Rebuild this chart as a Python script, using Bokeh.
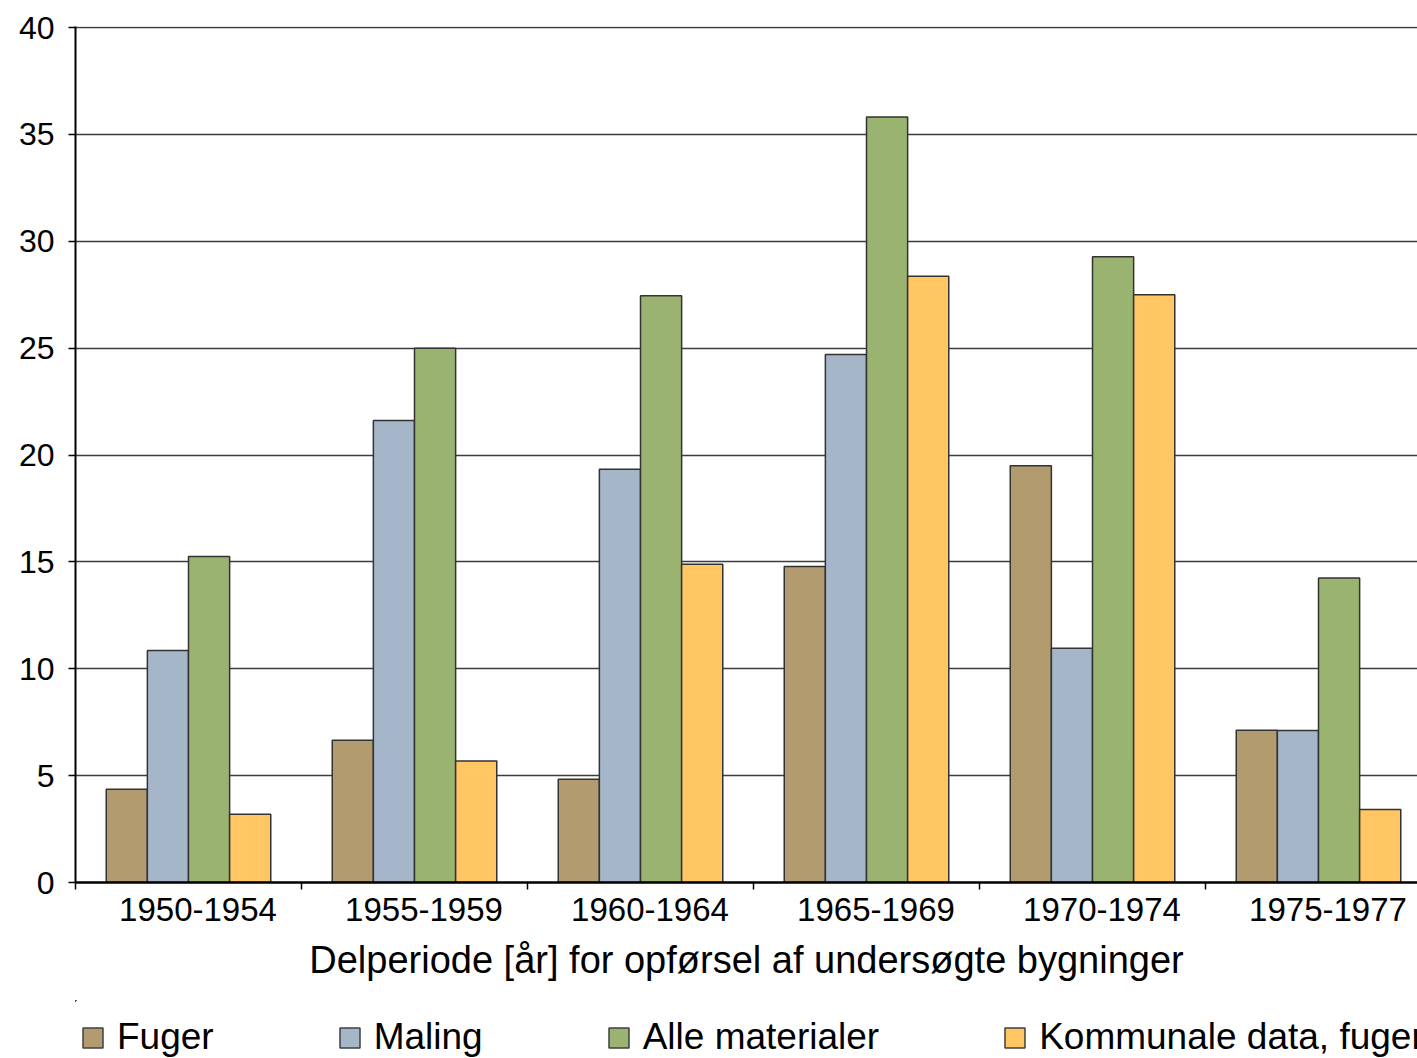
import numpy as np
from bokeh.plotting import figure
from bokeh.layouts import column
from bokeh.models import (Range1d, FixedTicker, Legend, LegendItem, ColumnDataSource)
from bokeh.embed import file_html
from bokeh.resources import INLINE

# ---- data ----
periods = ["1950-1954", "1955-1959", "1960-1964", "1965-1969", "1970-1974", "1975-1977"]
series_names = ["Fuger", "Maling", "Alle materialer", "Kommunale data, fuger"]
fuger = [4.36, 6.66, 4.83, 14.78, 19.50, 7.12]
maling = [10.86, 21.61, 19.33, 24.70, 10.96, 7.11]
alle = [15.25, 25.0, 27.45, 35.81, 29.28, 14.25]
kommunale = [3.19, 5.69, 14.89, 28.36, 27.50, 3.41]
y_ticks = [0, 5, 10, 15, 20, 25, 30, 35, 40]

colors = ["#B29B6E", "#A6B6C9", "#9BB371", "#FFC663"]
values = [fuger, maling, alle, kommunale]

FONT = "Liberation Sans"
bar_w = 0.182
offsets = [-1.5 * bar_w, -0.5 * bar_w, 0.5 * bar_w, 1.5 * bar_w]
label_shift = 0.042

n = len(periods)
centers = np.arange(n) + 0.5

p = figure(width=1417, height=1000, output_backend="svg", toolbar_location=None,
           x_range=Range1d(0, 5.938), y_range=Range1d(0, 40.05),
           min_border_left=75, min_border_right=0, min_border_top=26,
           min_border_bottom=118)
p.outline_line_color = None
p.background_fill_color = "white"
p.border_fill_color = "white"

sources = []
for name, vals, col, off in zip(series_names, values, colors, offsets):
    src = ColumnDataSource(dict(x=centers + off, top=vals))
    sources.append(src)
    p.vbar(x="x", top="top", bottom=0, width=bar_w, source=src,
           fill_color=col, line_color="#333333", line_width=1.5)

# grid
p.xgrid.visible = False
p.ygrid.ticker = FixedTicker(ticks=y_ticks)
p.ygrid.grid_line_color = "#3c3c3c"
p.ygrid.grid_line_width = 1.6

# y axis
ya = p.yaxis[0]
ya.ticker = FixedTicker(ticks=y_ticks)
ya.axis_line_color = "black"
ya.axis_line_width = 2
ya.major_tick_in = 0
ya.major_tick_out = 7
ya.major_tick_line_color = "black"
ya.major_tick_line_width = 1.5
ya.minor_tick_line_color = None
ya.major_label_standoff = 14
ya.major_label_text_font = FONT
ya.major_label_text_font_size = "32px"
ya.major_label_text_color = "black"

# x axis
label_pos = [float(c + label_shift) for c in centers]
xa = p.xaxis[0]
xa.ticker = FixedTicker(ticks=label_pos, minor_ticks=list(np.arange(n)))
xa.major_label_overrides = {lp: lab for lp, lab in zip(label_pos, periods)}
xa.axis_line_color = "black"
xa.axis_line_width = 2.5
xa.major_tick_in = 0
xa.major_tick_out = 0
xa.major_tick_line_color = None
xa.minor_tick_in = 0
xa.minor_tick_out = 7
xa.minor_tick_line_color = "black"
xa.minor_tick_line_width = 1.5
xa.major_label_standoff = 8
xa.major_label_text_font = FONT
xa.major_label_text_font_size = "33px"
xa.major_label_text_color = "black"
xa.axis_label = "Delperiode [år] for opførsel af undersøgte bygninger"
xa.axis_label_text_font = FONT
xa.axis_label_text_font_size = "38px"
xa.axis_label_text_font_style = "normal"
xa.axis_label_text_color = "black"
xa.axis_label_standoff = 15

# ---- legend strip (separate figure below the chart) ----
# same series are plotted here but far outside the visible ranges,
# so only the legend (which needs drawable renderers) shows.
lg = figure(width=1417, height=58, output_backend="svg", toolbar_location=None,
            x_range=Range1d(1000, 1001), y_range=Range1d(-1000, -999),
            x_axis_location=None, y_axis_location=None,
            min_border=0, min_border_left=0, min_border_right=0,
            min_border_top=0, min_border_bottom=0)
lg.outline_line_color = None
lg.grid.visible = False
lg.background_fill_color = "white"
lg.border_fill_color = "white"

items = []
for name, col, src in zip(series_names, colors, sources):
    r = lg.vbar(x="x", top="top", bottom=0, width=bar_w, source=src,
                fill_color=col, line_color="#404040", line_width=1.5)
    items.append(LegendItem(label=name, renderers=[r]))

legend = Legend(items=items, orientation="horizontal", location=(5, 0),
                glyph_width=25, glyph_height=25, label_standoff=12, spacing=123,
                padding=0, margin=0, border_line_color=None,
                background_fill_alpha=0,
                label_text_font=FONT, label_text_font_size="37px",
                label_text_color="black")
lg.add_layout(legend, "center")

layout = column(p, lg, spacing=0)
open("out.html", "w").write(file_html(layout, INLINE))
